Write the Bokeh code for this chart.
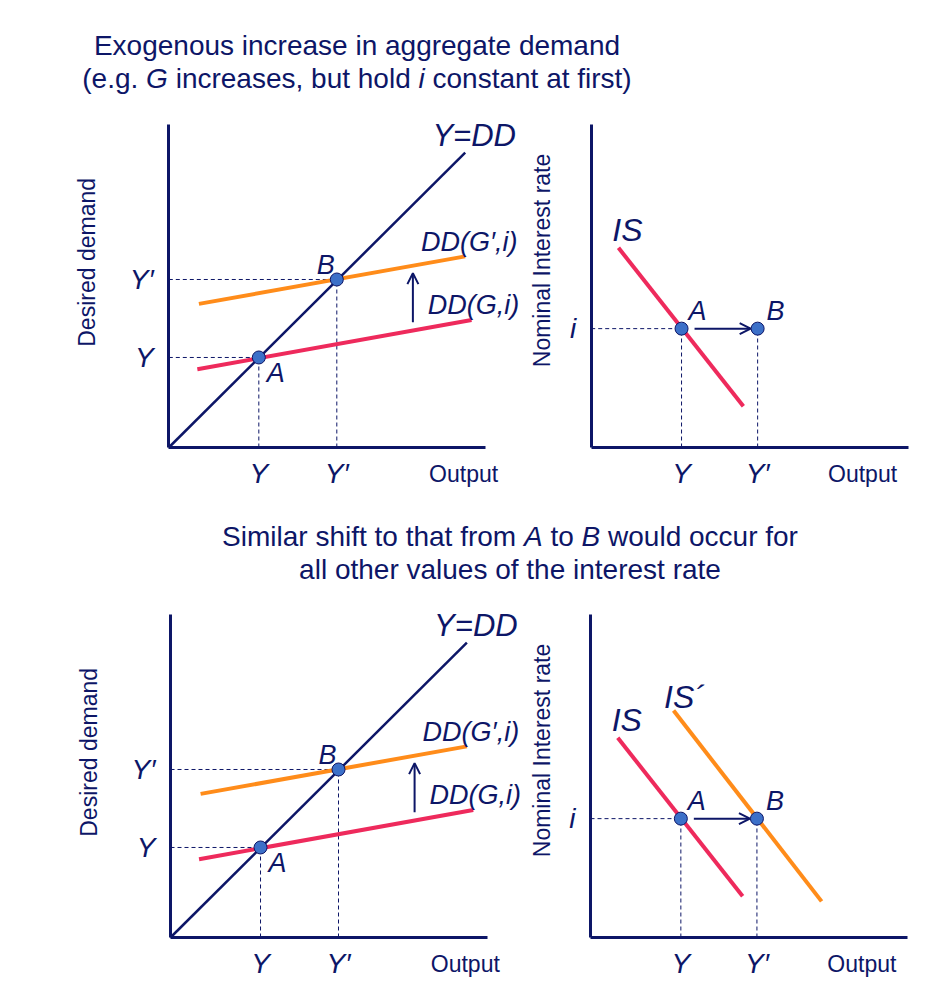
import math
from bokeh.plotting import figure
from bokeh.models import Range1d, FixedTicker, Label, Arrow, OpenHead, Div, Spacer
from bokeh.layouts import column, row
from bokeh.embed import file_html
from bokeh.resources import INLINE

NAVY = "#0d1667"
RED = "#ee2a5c"
ORANGE = "#ff8c1a"
DOT = "#3c70c8"
FONT = "Liberation Sans"

# ---------------- data (panel units) ----------------
# Keynesian-cross panels (left)
out_levels = [2.84, 5.30]          # Y (point A), Y' (point B)
out_labels = ["Y", "Y′"]
point_names = ["A", "B"]
diag_x = [0.0, 9.35]               # Y = DD
diag_y = [0.0, 9.30]
dd_g_x = [0.90, 9.55]              # DD(G,i)
dd_g_y = [2.47, 4.02]
dd_g2_x = [0.95, 9.35]             # DD(G',i)
dd_g2_y = [4.53, 6.03]
shift_x = 7.70                     # upward shift arrow
shift_y = [3.95, 5.50]

# IS panels (right)
rate_i = 3.75
rate_label = "i"
is_out = [2.85, 5.25]              # output at A and B
is_x = [0.86, 4.80]
is_y = [6.30, 1.30]
is2_x = [2.62, 7.29]
is2_y = [7.16, 1.14]
move_x = [3.26, 5.03]

X_MAX = 10.0
Y_MAX = 10.19
S = 31.7   # pixels per unit


def make_fig(width, height, ox, oy, xticks, xlabels, yticks, ylabels):
    """ox: origin px from left of canvas, oy: origin px from bottom of canvas"""
    p = figure(width=width, height=height,
               x_range=Range1d(-ox / S, (width - ox) / S),
               y_range=Range1d(-oy / S, (height - oy) / S),
               output_backend="svg", toolbar_location=None,
               min_border=0, min_border_left=0, min_border_right=0,
               min_border_top=0, min_border_bottom=0)
    p.margin = 0
    p.outline_line_color = None
    p.background_fill_color = "white"
    p.border_fill_color = "white"
    p.xgrid.visible = False
    p.ygrid.visible = False
    p.xaxis.fixed_location = 0
    p.yaxis.fixed_location = 0
    p.xaxis.bounds = (0, X_MAX)
    p.yaxis.bounds = (0, Y_MAX)
    p.xaxis.ticker = FixedTicker(ticks=xticks)
    p.xaxis.major_label_overrides = {t: l for t, l in zip(xticks, xlabels)}
    p.yaxis.ticker = FixedTicker(ticks=yticks)
    p.yaxis.major_label_overrides = {t: l for t, l in zip(yticks, ylabels)}
    for ax in (p.xaxis[0], p.yaxis[0]):
        ax.axis_line_color = NAVY
        ax.axis_line_width = 3
        ax.major_tick_line_color = None
        ax.minor_tick_line_color = None
        ax.major_tick_in = 0
        ax.major_tick_out = 0
        ax.minor_tick_in = 0
        ax.minor_tick_out = 0
        ax.major_label_text_font = FONT
        ax.major_label_text_font_size = "28px"
        ax.major_label_text_font_style = "italic"
        ax.major_label_text_color = NAVY
    p.xaxis.major_label_standoff = 10
    p.yaxis.major_label_standoff = 15
    return p


def lab(p, x, y, text, dx=0, dy=0, size="27px", style="italic", angle=0):
    p.add_layout(Label(x=x, y=y, x_offset=dx, y_offset=dy, text=text, text_font=FONT,
                       text_font_size=size, text_font_style=style, text_color=NAVY,
                       text_align="center", text_baseline="middle", angle=angle))


def cross_panel(height, ox, oy):
    p = make_fig(525, height, ox, oy, out_levels, out_labels, out_levels, out_labels)
    for v in out_levels:
        p.line([0, v], [v, v], line_color=NAVY, line_width=1, line_dash="4 3")
        p.line([v, v], [0, v], line_color=NAVY, line_width=1, line_dash="4 3")
    p.line(dd_g_x, dd_g_y, line_color=RED, line_width=4)
    p.line(dd_g2_x, dd_g2_y, line_color=ORANGE, line_width=4)
    p.line(diag_x, diag_y, line_color=NAVY, line_width=2.5)
    p.scatter(out_levels, out_levels, size=13, fill_color=DOT, line_color=NAVY, line_width=1)
    p.add_layout(Arrow(end=OpenHead(size=11, line_color=NAVY, line_width=2),
                       x_start=shift_x, y_start=shift_y[0], x_end=shift_x, y_end=shift_y[1],
                       line_color=NAVY, line_width=2))
    lab(p, diag_x[1], diag_y[1], "Y=DD", dx=9, dy=17, size="31px")
    lab(p, dd_g2_x[1], dd_g2_y[1], "DD(G′,i)", dx=4, dy=14, size="27px")
    lab(p, dd_g_x[1], dd_g_y[1], "DD(G,i)", dx=2, dy=15, size="27px")
    lab(p, out_levels[0], out_levels[0], point_names[0], dx=17, dy=-16)
    lab(p, out_levels[1], out_levels[1], point_names[1], dx=-11, dy=14)
    lab(p, 9.3, 0, "Output", dy=-26, size="23px", style="normal")
    lab(p, 0, 5.84, "Desired demand", dx=-82, size="23px", style="normal", angle=math.pi / 2)
    return p


def is_panel(height, ox, oy, shifted):
    p = make_fig(410, height, ox, oy, is_out, out_labels, [rate_i], [rate_label])
    p.line([0, is_out[0]], [rate_i, rate_i], line_color=NAVY, line_width=1, line_dash="4 3")
    for v in is_out:
        p.line([v, v], [0, rate_i], line_color=NAVY, line_width=1, line_dash="4 3")
    p.line(is_x, is_y, line_color=RED, line_width=4)
    lab(p, is_x[0], is_y[0], "IS", dx=9, dy=18, size="32px")
    if shifted:
        p.line(is2_x, is2_y, line_color=ORANGE, line_width=4)
        lab(p, is2_x[0], is2_y[0], "IS´", dx=11, dy=14, size="32px")
    p.add_layout(Arrow(end=OpenHead(size=11, line_color=NAVY, line_width=2),
                       x_start=move_x[0], y_start=rate_i, x_end=move_x[1], y_end=rate_i,
                       line_color=NAVY, line_width=2))
    p.scatter(is_out, [rate_i, rate_i], size=13, fill_color=DOT, line_color=NAVY, line_width=1)
    lab(p, is_out[0], rate_i, point_names[0], dx=16, dy=18)
    lab(p, is_out[1], rate_i, point_names[1], dx=18, dy=18)
    lab(p, 8.56, 0, "Output", dy=-26, size="23px", style="normal")
    lab(p, 0, 5.9, "Nominal Interest rate", dx=-49, size="23px", style="normal", angle=math.pi / 2)
    return p


def title_div(html, width, height, pad):
    return Div(text=(f"<div style=\"font-family:'{FONT}',Arial,sans-serif;font-size:28px;"
                     f"color:{NAVY};text-align:center;line-height:33px;padding-top:{pad}px;"
                     f"width:{width}px;\">{html}</div>"),
               width=width, height=height, margin=0)


title1 = title_div("Exogenous increase in aggregate demand<br>"
                   "(e.g. <i>G</i> increases, but hold <i>i</i> constant at first)", 714, 105, 29)
title2 = title_div("Similar shift to that from <i>A</i> to <i>B</i> would occur for<br>"
                   "all other values of the interest rate", 620, 103, 23)

# top row: page y 105..497 ; bottom row: page y 600..990
tl = cross_panel(392, 168.3, 50)
tr = is_panel(392, 65.7, 50, False)
bl = cross_panel(390, 170, 53)
br = is_panel(390, 65, 53, True)

p = column(title1,
           row(tl, tr, margin=0, spacing=0),
           row(Spacer(width=200, height=103, margin=0), title2, margin=0, spacing=0),
           row(bl, br, margin=0, spacing=0),
           margin=0, spacing=0)

open("out.html", "w").write(file_html(p, INLINE))
